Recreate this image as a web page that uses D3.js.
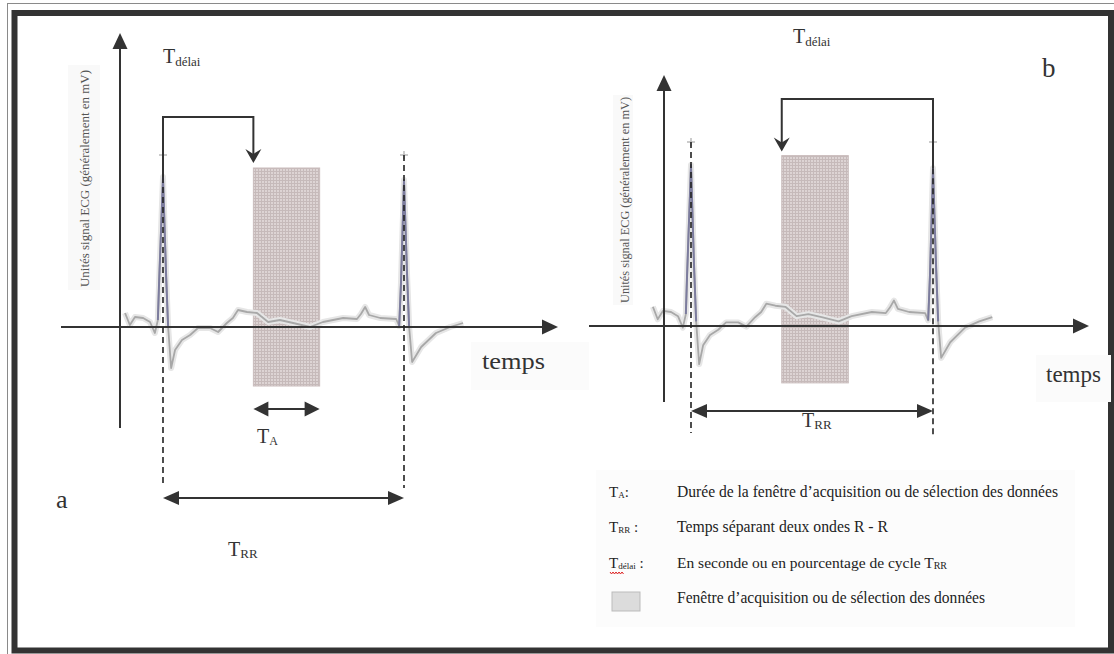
<!DOCTYPE html>
<html><head><meta charset="utf-8">
<script src="https://cdn.jsdelivr.net/npm/d3@7"></script>
<style>html,body{margin:0;padding:0;background:#fff;} svg{display:block;}</style>
</head><body><svg id="c" width="1114" height="654"></svg>
<script>
// ---------- DATA (time in s relative to first R wave, amplitude in mV) ----------
const ecgTime = [-0.126,-0.110,-0.093,-0.066,-0.043,-0.027,-0.017,-0.013,0,0.010,0.017,0.027,0.040,0.063,0.090,0.116,0.156,0.183,0.212,0.232,0.249,0.279,0.312,0.349,0.388,0.432,0.488,0.531,0.598,0.644,0.657,0.671,0.684,0.721,0.774,0.784,0.790,0.800,0.810,0.817,0.827,0.857,0.906,0.953,0.996];
const ecgMv   = [0.05,-0.07,0.01,0,-0.04,-0.15,-0.02,0.35,1.41,0.45,-0.09,-0.50,-0.32,-0.22,-0.17,-0.10,-0.10,-0.14,-0.05,0,0.08,0.06,0.05,-0.04,-0.02,-0.05,-0.09,-0.04,0,-0.01,0.04,0.11,0.03,0,-0.01,-0.08,0.35,1.38,0.45,-0.09,-0.44,-0.29,-0.15,-0.09,-0.05];
const rPeakTimes = [0, 0.8];
const rPeakMv = [1.41, 1.38];
const markerMv = 1.63;
const acqWindowTime = [0.30, 0.52];
const acqWindowMv = [-0.68, 1.5];
const panelLetters = ["a", "b"];
const legendSymbols = ["A", "RR", "délai", null];
const legendTexts = [
  "Durée de la fenêtre d’acquisition ou de sélection des données",
  "Temps séparant deux ondes R - R",
  "En seconde ou en pourcentage de cycle T",
  "Fenêtre d’acquisition ou de sélection des données"
];
const legendTailSub = [null, null, "RR", null];
const yAxisLabel = "Unités signal ECG (généralement en mV)";

// ---------- LAYOUT ----------
const svg = d3.select("#c");
const serif = "'Liberation Serif','DejaVu Serif',serif";
const ink = "#333";

const panels = [
  { xr:[163,404], yr:[318,177], yAxisX:120, yTop:33, yBot:428, xAxisY:327, xLeft:61, xRight:558,
    delayR:0, delayTop:117, tipGap:5, rrY:498, dashBot:[485,488], taY:409,
    delayLbl:[163,63], rrLbl:[228,556], taLbl:[257,443], tempsLbl:[482,369,63], tempsBox:[471,342,118,48],
    letter:[56,508,26], yLbl:[89,178.5,217], yBox:[68,65,32,225] },
  { xr:[691,933], yr:[312,165], yAxisX:664, yTop:75, yBot:402, xAxisY:326, xLeft:589, xRight:1089,
    delayR:1, delayTop:99, tipGap:4, rrY:411, dashBot:[433,437], taY:null,
    delayLbl:[793,43], rrLbl:[802,427], taLbl:null, tempsLbl:[1046,382,55], tempsBox:[1036,355,75,47],
    letter:[1042,77,27], yLbl:[629,200,206], yBox:[613,95,20,210] }
];

const defs = svg.append("defs");
const pat = defs.append("pattern").attr("id","grid").attr("width",3).attr("height",3).attr("patternUnits","userSpaceOnUse");
pat.append("rect").attr("width",3).attr("height",3).attr("fill","#ddd4d4");
pat.append("path").attr("d","M0,0.5H3M0.5,0V3").attr("stroke","#c6baba").attr("stroke-width",1);

// frame
svg.append("rect").attr("x",7.5).attr("y",3.5).attr("width",1130).attr("height",700)
  .attr("fill","none").attr("stroke","#8a8a8a").attr("stroke-width",1);
svg.append("rect").attr("x",14.5).attr("y",13).attr("width",1096.5).attr("height",637.5)
  .attr("fill","none").attr("stroke","#333").attr("stroke-width",6);

function tri(g, x, y, dir, len, half){
  let pts;
  if(dir==="up") pts=[[x,y],[x-half,y+len],[x+half,y+len]];
  if(dir==="down") pts=[[x,y],[x-half,y-len],[x+half,y-len]];
  if(dir==="right") pts=[[x,y],[x-len,y-half],[x-len,y+half]];
  if(dir==="left") pts=[[x,y],[x+len,y-half],[x+len,y+half]];
  g.append("path").attr("d","M"+pts.map(p=>p.join(",")).join("L")+"Z").attr("fill",ink);
}
function barbDown(g, x, y){
  g.append("path").attr("d",`M${x},${y}L${x-8},${y-14}L${x},${y-9}L${x+8},${y-14}Z`).attr("fill",ink);
}
function subText(g, x, y, main, sub, size, subSize, subDy){
  const t = g.append("text").attr("x",x).attr("y",y).attr("font-family",serif).attr("font-size",size).attr("fill",ink);
  t.append("tspan").text(main);
  t.append("tspan").attr("font-size",subSize).attr("dy",subDy).text(sub);
  return t;
}

const ecg = ecgTime.map((t,i)=>({t, v:ecgMv[i]}));

panels.forEach((p, pi) => {
  const g = svg.append("g");
  const x = d3.scaleLinear().domain([rPeakTimes[0], rPeakTimes[1]]).range(p.xr);
  const y = d3.scaleLinear().domain([0, rPeakMv[0]]).range(p.yr);

  g.append("rect").attr("x",p.yBox[0]).attr("y",p.yBox[1]).attr("width",p.yBox[2]).attr("height",p.yBox[3]).attr("fill","#f9f9f9");
  g.append("rect").attr("x",p.tempsBox[0]).attr("y",p.tempsBox[1]).attr("width",p.tempsBox[2]).attr("height",p.tempsBox[3]).attr("fill","#fbfbfb");

  g.append("rect").attr("x",x(acqWindowTime[0])).attr("y",y(acqWindowMv[1]))
    .attr("width",x(acqWindowTime[1])-x(acqWindowTime[0])).attr("height",y(acqWindowMv[0])-y(acqWindowMv[1]))
    .attr("fill","url(#grid)").attr("stroke","#c9bcbc").attr("stroke-width",1);

  const line = d3.line().x(d=>x(d.t)).y(d=>y(d.v));
  g.append("path").attr("d",line(ecg)).attr("fill","none").attr("stroke","#e6e6e6").attr("stroke-width",6).attr("stroke-linejoin","round");
  g.append("path").attr("d",line(ecg)).attr("fill","none").attr("stroke","#a8a8a8").attr("stroke-width",1.8).attr("stroke-linejoin","round");
  rPeakTimes.forEach(rt => {
    const seg = ecg.filter(d => Math.abs(d.t-rt) <= 0.0175);
    g.append("path").attr("d",line(seg)).attr("fill","none").attr("stroke","#7c7c9e").attr("stroke-width",2).attr("stroke-linejoin","round");
    const mx = x(rt), my = y(markerMv);
    g.append("path").attr("d",`M${mx-4},${my}H${mx+4}M${mx},${my-4}V${my+4}`).attr("stroke","#bbb").attr("stroke-width",1.5);
  });

  g.append("line").attr("x1",p.yAxisX).attr("x2",p.yAxisX).attr("y1",p.yTop+10).attr("y2",p.yBot).attr("stroke",ink).attr("stroke-width",2);
  tri(g, p.yAxisX, p.yTop, "up", 16, 7.5);
  g.append("line").attr("x1",p.xLeft).attr("x2",p.xRight-10).attr("y1",p.xAxisY).attr("y2",p.xAxisY).attr("stroke",ink).attr("stroke-width",2);
  tri(g, p.xRight, p.xAxisY, "right", 16, 7.5);

  rPeakTimes.forEach((rt,i) => {
    g.append("line").attr("x1",x(rt)).attr("x2",x(rt)).attr("y1",(i===p.delayR? y(rPeakMv[i]) : y(markerMv)))
      .attr("y2",p.dashBot[i]).attr("stroke","#222").attr("stroke-width",1.6).attr("stroke-dasharray","6,4");
  });

  const xr = x(rPeakTimes[p.delayR]), xw = x(acqWindowTime[0]);
  const tipY = y(acqWindowMv[1]) - p.tipGap;
  g.append("path").attr("d",`M${xr},${y(rPeakMv[p.delayR])}V${p.delayTop}H${xw}V${tipY-8}`)
    .attr("fill","none").attr("stroke",ink).attr("stroke-width",2);
  barbDown(g, xw, tipY);

  const x0 = x(rPeakTimes[0]), x1 = x(rPeakTimes[1]);
  g.append("line").attr("x1",x0+10).attr("x2",x1-10).attr("y1",p.rrY).attr("y2",p.rrY).attr("stroke",ink).attr("stroke-width",2);
  tri(g, x0, p.rrY, "left", 16, 7); tri(g, x1, p.rrY, "right", 16, 7);

  if(p.taY!==null){
    const a0 = x(acqWindowTime[0]), a1 = x(acqWindowTime[1]);
    g.append("line").attr("x1",a0+8).attr("x2",a1-8).attr("y1",p.taY).attr("y2",p.taY).attr("stroke",ink).attr("stroke-width",2);
    tri(g, a0, p.taY, "left", 15, 7.5); tri(g, a1, p.taY, "right", 15, 7.5);
    subText(g, p.taLbl[0], p.taLbl[1], "T", "A", 20, 12, 2);
  }

  subText(g, p.delayLbl[0], p.delayLbl[1], "T", "délai", 20, 13, 3);
  subText(g, p.rrLbl[0], p.rrLbl[1], "T", "RR", 20, 13, 2);
  g.append("text").attr("x",p.tempsLbl[0]).attr("y",p.tempsLbl[1]).attr("font-family",serif).attr("font-size",24)
    .attr("fill",ink).attr("textLength",p.tempsLbl[2]).attr("lengthAdjust","spacingAndGlyphs").text("temps");
  g.append("text").attr("x",p.letter[0]).attr("y",p.letter[1]).attr("font-family",serif).attr("font-size",p.letter[2])
    .attr("fill",ink).text(panelLetters[pi]);
  g.append("text").attr("transform",`translate(${p.yLbl[0]},${p.yLbl[1]}) rotate(-90)`).attr("text-anchor","middle")
    .attr("font-family",serif).attr("font-size",13).attr("fill","#555")
    .attr("textLength",p.yLbl[2]).attr("lengthAdjust","spacingAndGlyphs").text(yAxisLabel);
});

// ---------- LEGEND ----------
const lg = svg.append("g");
lg.append("rect").attr("x",596).attr("y",470).attr("width",479).attr("height",157).attr("fill","#fcfcfc");
const rowY = [497, 532, 568, 603];
const rowW = [381, 211, 272, 308];
legendSymbols.forEach((s,i) => {
  if(s!==null){
    const t = lg.append("text").attr("x",609).attr("y",rowY[i]).attr("font-family",serif).attr("font-size",15).attr("fill","#222");
    t.append("tspan").text("T");
    t.append("tspan").attr("font-size",9).attr("dy",1).text(s);
    t.append("tspan").attr("dy",-1).text(i===0 ? ":" : " :");
    if(s==="délai"){
      let d = "M610," + (rowY[i]+4);
      for(let k=0;k<9;k++){ d += `l1.5,${k%2?-2:2}`; }
      lg.append("path").attr("d",d).attr("fill","none").attr("stroke","#d22").attr("stroke-width",1);
    }
  } else {
    lg.append("rect").attr("x",612).attr("y",592).attr("width",28).attr("height",19).attr("fill","#dcdcdc").attr("stroke","#bbb");
  }
  const tt = lg.append("text").attr("x",677).attr("y",rowY[i]).attr("font-family",serif).attr("fill","#222");
  if(legendTailSub[i]){
    tt.attr("font-size",15.5);
    tt.append("tspan").text(legendTexts[i]);
    tt.append("tspan").attr("font-size",10).attr("dy",1).text(legendTailSub[i]);
  } else {
    tt.attr("font-size",16).attr("textLength",rowW[i]).attr("lengthAdjust","spacingAndGlyphs").text(legendTexts[i]);
  }
});
</script></body></html>
